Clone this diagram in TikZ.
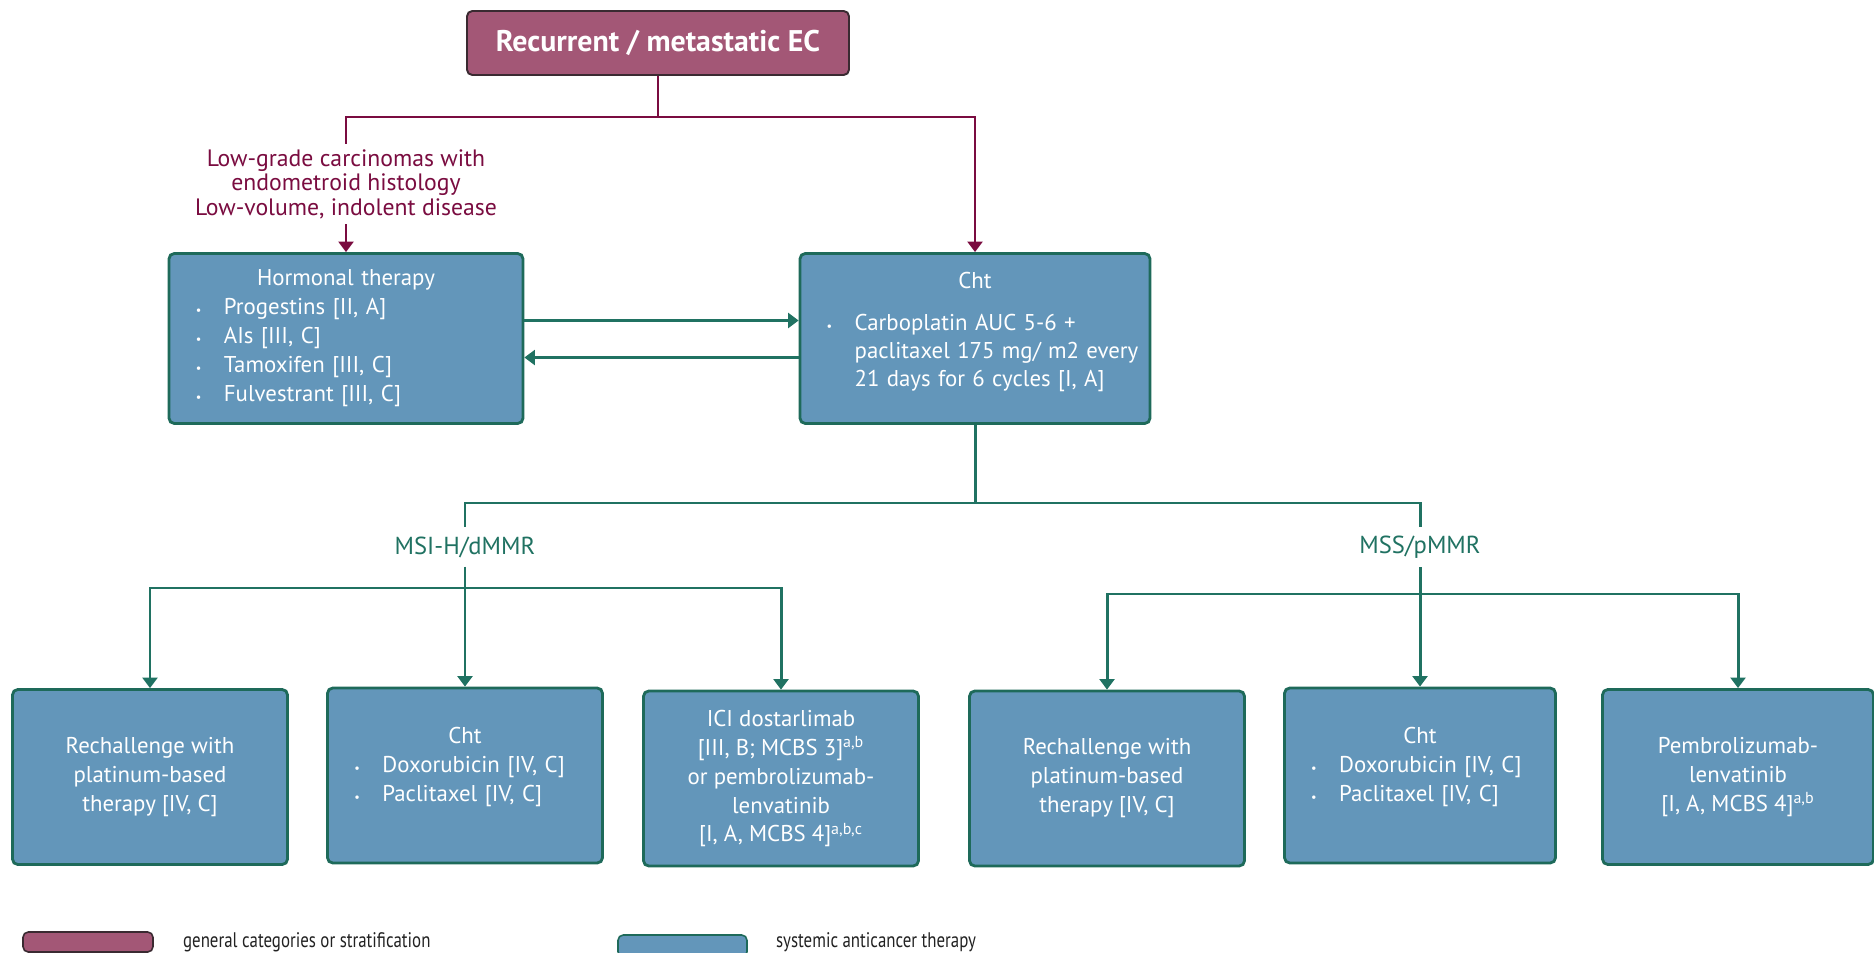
\documentclass[tikz,border=0pt]{standalone}
\usepackage{fontspec}
\setmainfont{PT Sans}
\newfontfamily\condfont[FakeStretch=0.8]{PT Sans}
\usetikzlibrary{arrows.meta,positioning,calc}
\definecolor{CatFill}{HTML}{A35776}
\definecolor{CatEdge}{HTML}{3A2A31}
\definecolor{Maroon}{HTML}{7A0C40}
\definecolor{TxFill}{HTML}{6396BA}
\definecolor{TxEdge}{HTML}{1E6A5A}
\definecolor{GreenLn}{HTML}{207262}
\definecolor{LegInk}{HTML}{222222}
\newcommand{\blt}{\makebox[16pt][l]{\scriptsize\textbullet}}
\newcommand{\ind}{\hspace*{16pt}}
\newcommand{\ctr}[1]{\hfill#1\hfill\mbox{}}

\begin{document}
\begin{tikzpicture}[
  x=0.02cm, y=-0.02cm,
  boxsize/.style 2 args={minimum width=#1*0.02cm, minimum height=#2*0.02cm},
  catbox/.style={draw=CatEdge, line width=1.1pt, fill=CatFill, rounded corners=3pt, text=white, font=\fontsize{17}{20}\selectfont\bfseries, align=center, inner sep=0pt},
  txbox/.style={draw=TxEdge, line width=1.6pt, fill=TxFill, rounded corners=3pt, text=white, font=\fontsize{13}{16.5}\selectfont, align=center, inner sep=0pt},
  lstbox/.style={txbox, align=left, inner xsep=15pt},
  lbl/.style={font=\fontsize{13.5}{14}\selectfont, align=center, text=Maroon, inner sep=3pt},
  glbl/.style={font=\fontsize{14}{16}\selectfont, text=GreenLn, inner xsep=2pt, inner ysep=5pt},
  legtxt/.style={font=\condfont\fontsize{12}{14}\selectfont, text=LegInk, inner sep=0pt},
  mline/.style={Maroon, line width=1.6pt},
  marr/.style={mline, -{Triangle[length=6pt,width=8.5pt]}},
  gline/.style={GreenLn, line width=1.7pt},
  garr/.style={gline, -{Triangle[length=6pt,width=8.5pt]}}
]
\useasboundingbox (0,0) rectangle (1874,953);
\fill[white] (0,0) rectangle (1874,953);

% top and first split
\node[catbox, boxsize={382}{64}] (top) at (658,43) {Recurrent / metastatic EC};
\node[lbl] (lowgr) at (346,184) {Low-grade carcinomas with\\endometroid histology\\Low-volume, indolent disease};
\node[lstbox, boxsize={354}{170}, text width=171pt] (horm) at (346,338.5)
  {\ctr{Hormonal therapy}\\ \blt Progestins [II, A]\\ \blt AIs [III, C]\\ \blt Tamoxifen [III, C]\\ \blt Fulvestrant [III, C]};
\node[lstbox, boxsize={350}{170}, text width=169pt, font=\fontsize{12.5}{15.3}\selectfont] (cht) at (975,338.5)
  {\ctr{\fontsize{13}{16}\selectfont Cht}\\[8pt] \mbox{\blt Carboplatin AUC 5-6 +}\\ \mbox{\ind paclitaxel 175 mg/ m2 every}\\ \mbox{\ind 21 days for 6 cycles [I, A]}\\[-5pt]\mbox{}};

% molecular split
\node[glbl] (msi) at (465,547) {MSI-H/dMMR};
\node[glbl] (mss) at (1420,547) {MSS/pMMR};

% bottom row
\node[txbox, boxsize={275}{175}] (b1) at (150,777) {Rechallenge with\\platinum-based\\therapy [IV, C]};
\node[lstbox, boxsize={275}{175}, text width=126pt] (b2) at (465,775.5)
  {\ctr{Cht}\\ \blt Doxorubicin [IV, C]\\ \blt Paclitaxel [IV, C]\\[-4pt]\mbox{}};
\node[txbox, boxsize={275}{175}] (b3) at (781,778.5) {ICI dostarlimab\\{}[III, B; MCBS 3]\textsuperscript{a,b}\\or pembrolizumab-\\lenvatinib\\{}[I, A, MCBS 4]\textsuperscript{a,b,c}};
\node[txbox, boxsize={275}{175}] (b4) at (1107,778.5) {Rechallenge with\\platinum-based\\therapy [IV, C]};
\node[lstbox, boxsize={271}{175}, text width=124pt] (b5) at (1420,775.5)
  {\ctr{Cht}\\ \blt Doxorubicin [IV, C]\\ \blt Paclitaxel [IV, C]\\[-4pt]\mbox{}};
\node[txbox, boxsize={271}{175}] (b6) at (1738,777) {Pembrolizumab-\\lenvatinib\\{}[I, A, MCBS 4]\textsuperscript{a,b}};

% legend
\node[catbox, boxsize={130}{20}, line width=0.9pt] (legcat) at (88,942) {};
\node[legtxt, right=0.58cm of legcat] (legcattxt) {general categories or stratification};
\node[txbox, boxsize={129}{22}, line width=0.9pt] (legtx) at (682.5,946) {};
\node[legtxt, right=0.56cm of legtx.east |- legcattxt] (legtxtxt) {systemic anticancer therapy};

% connectors
\coordinate (mj) at (top.south |- 0,117);
\draw[mline] (top.south) -- (mj);
\draw[mline] (mj) -| (lowgr.north);
\draw[marr] (mj) -| (cht.north);
\draw[marr] (lowgr.south) -- (horm.north);
\draw[garr] ($(horm.east)+(0,-18)$) -- ($(cht.west)+(0,-18)$);
\draw[garr] ($(cht.west)+(0,19)$) -- ($(horm.east)+(0,19)$);
\coordinate (gj) at (cht.south |- 0,503);
\draw[gline] (cht.south) -- (gj);
\draw[gline] (gj) -| (msi.north);
\draw[gline] (gj) -| (mss.north);
\coordinate (lj) at (msi.south |- 0,588);
\coordinate (rj) at (mss.south |- 0,594);
\draw[garr] (msi.south) -- (b2.north);
\draw[garr] (lj) -| (b1.north);
\draw[garr] (lj) -| (b3.north);
\draw[garr] (mss.south) -- (b5.north);
\draw[garr] (rj) -| (b4.north);
\draw[garr] (rj) -| (b6.north);
\end{tikzpicture}
\end{document}
